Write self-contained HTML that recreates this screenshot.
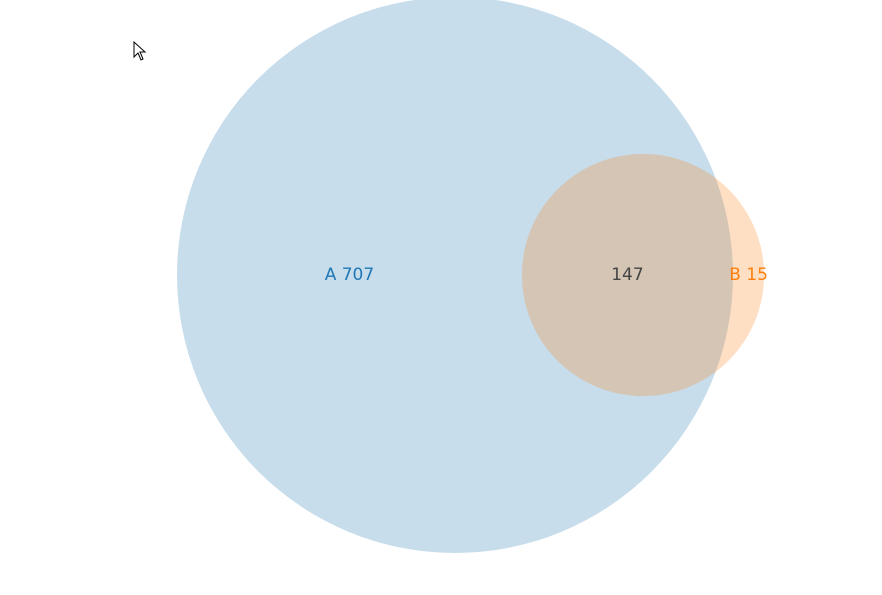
<!DOCTYPE html>
<html>
<head>
<meta charset="utf-8">
<style>
  html,body{margin:0;padding:0;background:#fff;}
  svg{display:block;}
  text{font-family:"DejaVu Sans","Liberation Sans",sans-serif;font-size:17px;}
</style>
</head>
<body>
<svg id="chart" width="882" height="595">
  <path d="M134,42 L134,57 L138,53 L141,60 L143,59 L140,52 L145,52 Z" fill="#fff" stroke="#000" stroke-width="1"/>
</svg>
<script>
const setNames = ["A", "B"];
const onlyCounts = [707, 15];
const overlapCount = [147];
const setColors = ["#1f77b4", "#ff7f0e"];

const svg = document.getElementById('chart');
const NS = 'http://www.w3.org/2000/svg';
const k = 278 / Math.sqrt(854);
const totals = [onlyCounts[0] + overlapCount[0], onlyCounts[1] + overlapCount[0]];
const radii = totals.map(t => k * Math.sqrt(t));
const cy = 275;
const centers = [455, 643];

for (let i = 0; i < 2; i++) {
  const c = document.createElementNS(NS, 'circle');
  c.setAttribute('cx', centers[i]);
  c.setAttribute('cy', cy);
  c.setAttribute('r', radii[i]);
  c.setAttribute('fill', setColors[i]);
  c.setAttribute('fill-opacity', '0.25');
  
  
  svg.insertBefore(c, svg.lastChild);
}

function label(x, txt, color, name) {
  const t = document.createElementNS(NS, 'text');
  t.setAttribute('x', x);
  t.setAttribute('y', cy + 5);
  t.setAttribute('text-anchor', 'middle');
  t.setAttribute('fill', color);
  t.textContent = txt;
  
  
  svg.appendChild(t);
}
const leftEdgeA = centers[0] - radii[0];
const leftEdgeB = centers[1] - radii[1];
const rightEdgeA = centers[0] + radii[0];
const rightEdgeB = centers[1] + radii[1];
label((leftEdgeA + leftEdgeB) / 2, setNames[0] + ' ' + onlyCounts[0], setColors[0], 'label-a');
label((leftEdgeB + rightEdgeA) / 2, String(overlapCount[0]), '#444', 'label-overlap');
label((rightEdgeA + rightEdgeB) / 2, setNames[1] + ' ' + onlyCounts[1], setColors[1], 'label-b');
</script>
</body>
</html>
